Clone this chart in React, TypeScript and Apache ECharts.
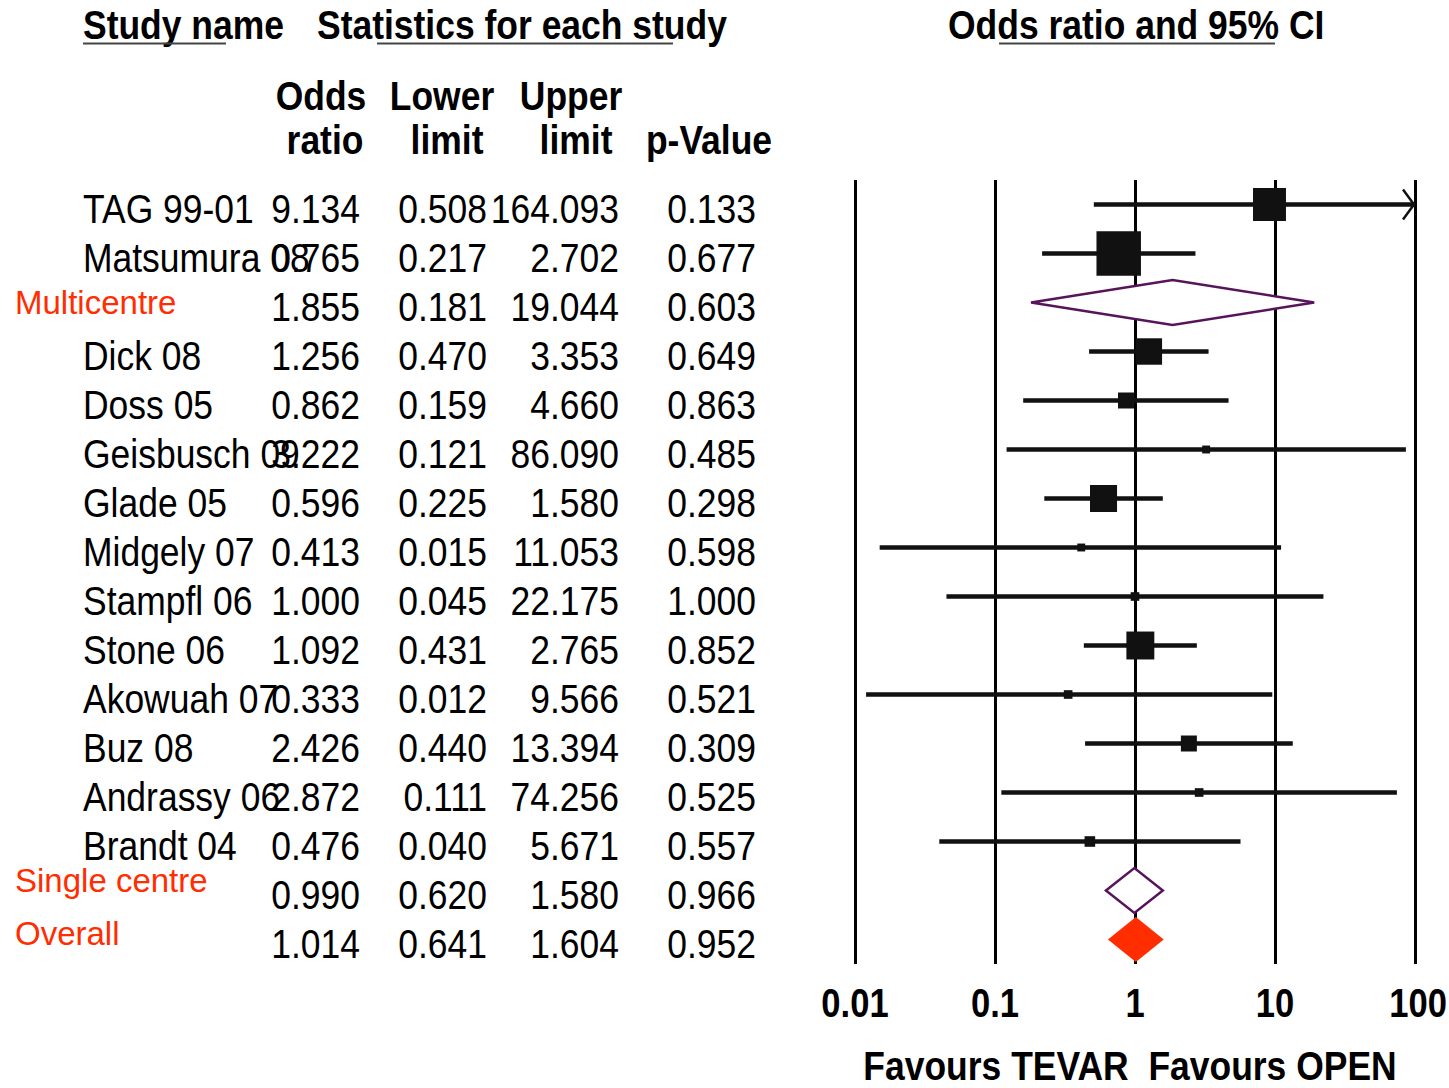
import React, { useEffect, useRef } from 'react';
import * as echarts from 'echarts';

// ---------- data ----------
const rowNames = [
  'TAG 99-01', 'Matsumura 08', 'Multicentre', 'Dick 08', 'Doss 05', 'Geisbusch 09',
  'Glade 05', 'Midgely 07', 'Stampfl 06', 'Stone 06', 'Akowuah 07', 'Buz 08',
  'Andrassy 06', 'Brandt 04', 'Single centre', 'Overall',
];
const rowType = [
  'study', 'study', 'subgroup', 'study', 'study', 'study', 'study', 'study',
  'study', 'study', 'study', 'study', 'study', 'study', 'subgroup', 'overall',
];
const oddsRatio = [9.134, 0.765, 1.855, 1.256, 0.862, 3.222, 0.596, 0.413, 1.0, 1.092, 0.333, 2.426, 2.872, 0.476, 0.99, 1.014];
const lowerLimit = [0.508, 0.217, 0.181, 0.47, 0.159, 0.121, 0.225, 0.015, 0.045, 0.431, 0.012, 0.44, 0.111, 0.04, 0.62, 0.641];
const upperLimit = [164.093, 2.702, 19.044, 3.353, 4.66, 86.09, 1.58, 11.053, 22.175, 2.765, 9.566, 13.394, 74.256, 5.671, 1.58, 1.604];
const pValue = [0.133, 0.677, 0.603, 0.649, 0.863, 0.485, 0.298, 0.598, 1.0, 0.852, 0.521, 0.309, 0.525, 0.557, 0.966, 0.952];
// relative weight (%) of each study
const relWeight = [17.4, 31.7, 0, 11.2, 4.1, 1.0, 11.7, 1.0, 1.2, 12.5, 1.2, 4.1, 1.2, 1.8, 0, 0];

const xTicks = [0.01, 0.1, 1, 10, 100];
const xTickLabels = ['0.01', '0.1', '1', '10', '100'];

const headerTitles = ['Study name', 'Statistics for each study', 'Odds ratio and 95% CI'];
const columnHeadTop = ['Odds', 'Lower', 'Upper', ''];
const columnHeadBottom = ['ratio', 'limit', 'limit', 'p-Value'];
const xAxisTitle = 'Favours TEVAR  Favours OPEN';

// ---------- styling / layout ----------
const X_MIN = 0.01;
const X_MAX = 100;
const FONT = "'Liberation Sans', Arial, Helvetica, sans-serif";
const SQUASH = 0.865;
const RED = '#ff2d00';
const PURPLE = '#58145a';
const INK = '#111111';

function txt(text: string, x: number, y: number, opt: any = {}) {
  const align = opt.align || 'left';
  return {
    type: 'text',
    x,
    y,
    scaleX: opt.scaleX ?? SQUASH,
    scaleY: 1,
    z: 10,
    style: {
      text,
      fontSize: opt.fontSize ?? 41,
      fontWeight: opt.bold ? 'bold' : 'normal',
      fontFamily: FONT,
      fill: opt.color || '#000',
      align,
      textAlign: align,
      verticalAlign: 'middle',
      textVerticalAlign: 'middle',
    },
  };
}

export default function App() {
  const ref = useRef<HTMLDivElement>(null);

  useEffect(() => {
    if (!ref.current) return;
    const chart = echarts.init(ref.current, null, { renderer: 'svg' });

    const studyData: any[] = [];
    const diamondData: any[] = [];
    rowType.forEach((t, i) => {
      if (t === 'study') studyData.push([i, oddsRatio[i], lowerLimit[i], upperLimit[i], relWeight[i]]);
      else diamondData.push([i, oddsRatio[i], lowerLimit[i], upperLimit[i], t === 'overall' ? 1 : 0]);
    });

    const option: any = {
      animation: false,
      backgroundColor: '#ffffff',
      grid: { left: 855, right: 34, top: 180, bottom: 124, containLabel: false },
      xAxis: {
        type: 'log',
        logBase: 10,
        min: X_MIN,
        max: X_MAX,
        axisLine: { show: false },
        axisTick: { show: false },
        splitLine: { show: true, showMinLine: true, showMaxLine: true, lineStyle: { color: '#000', width: 3 } },
        axisLabel: { show: false },
      },
      yAxis: { type: 'value', min: -0.5, max: 15.5, inverse: true, show: false },
      series: [
        {
          type: 'custom',
          name: 'studies',
          clip: false,
          z: 5,
          encode: { x: [1, 2, 3], y: 0 },
          data: studyData,
          renderItem: (params: any, api: any) => {
            const idx = api.value(0);
            const or = api.value(1);
            const lo = api.value(2);
            const hi = api.value(3);
            const w = api.value(4);
            const hiC = Math.min(hi, X_MAX);
            const pLo = api.coord([lo, idx]);
            const pHi = api.coord([hiC, idx]);
            const pOr = api.coord([or, idx]);
            const side = Math.sqrt(w) * 7.9;
            const children: any[] = [
              {
                type: 'line',
                shape: { x1: pLo[0], y1: pLo[1], x2: pHi[0], y2: pHi[1] },
                style: { stroke: INK, lineWidth: 4.5 },
              },
              {
                type: 'rect',
                shape: { x: pOr[0] - side / 2, y: pOr[1] - side / 2, width: side, height: side },
                style: { fill: INK },
              },
            ];
            if (hi > X_MAX) {
              children.push({
                type: 'polyline',
                shape: { points: [[pHi[0] - 12, pHi[1] - 15], [pHi[0] - 1, pHi[1]], [pHi[0] - 12, pHi[1] + 15]] },
                style: { stroke: INK, lineWidth: 2.5, fill: null },
              });
            }
            return { type: 'group', children };
          },
        },
        {
          type: 'custom',
          name: 'summaries',
          clip: false,
          z: 6,
          encode: { x: [1, 2, 3], y: 0 },
          data: diamondData,
          renderItem: (params: any, api: any) => {
            const idx = api.value(0);
            const pOr = api.coord([api.value(1), idx]);
            const pLo = api.coord([api.value(2), idx]);
            const pHi = api.coord([api.value(3), idx]);
            const filled = api.value(4) === 1;
            const h = 22.5;
            return {
              type: 'polygon',
              shape: {
                points: [
                  [pLo[0], pLo[1]],
                  [pOr[0], pOr[1] - h],
                  [pHi[0], pHi[1]],
                  [pOr[0], pOr[1] + h],
                ],
              },
              style: filled
                ? { fill: RED, stroke: null }
                : { fill: '#ffffff', stroke: PURPLE, lineWidth: 2.5 },
            };
          },
        },
      ],
    };

    chart.setOption(option);

    // ---------- table texts ----------
    const g: any[] = [];
    const colRight = [360, 487, 619, 756];
    const colCenter = [321, 442, 571, 709];
    const bottomCenter = [325, 447, 576, 709];

    g.push(txt(headerTitles[0], 83, 25, { bold: true }));
    g.push(txt(headerTitles[1], 317, 25, { bold: true }));
    g.push(txt(headerTitles[2], 948, 25, { bold: true }));
    const ul = (x1: number, x2: number) => ({
      type: 'line', z: 10,
      shape: { x1, y1: 43.5, x2, y2: 43.5 },
      style: { stroke: '#444', lineWidth: 2 },
    });
    g.push(ul(83, 226), ul(377, 673), ul(999, 1275));

    columnHeadTop.forEach((t, k) => {
      if (t) g.push(txt(t, colCenter[k], 96, { bold: true, align: 'center' }));
    });
    columnHeadBottom.forEach((t, k) => {
      g.push(txt(t, bottomCenter[k], 140, { bold: true, align: 'center' }));
    });

    const redDy: Record<string, number> = { 'Multicentre': -0.5, 'Single centre': -10, 'Overall': -6 };
    rowNames.forEach((name, i) => {
      const yRow = chart.convertToPixel({ yAxisIndex: 0 } as any, i) as number;
      const yT = yRow + 4;
      if (rowType[i] === 'study') {
        g.push(txt(name, 83, yT));
      } else {
        g.push(txt(name, 15, yRow + (redDy[name] ?? 0), { scaleX: 1, fontSize: 33, color: RED }));
      }
      const vals = [oddsRatio[i], lowerLimit[i], upperLimit[i], pValue[i]];
      vals.forEach((v, k) => g.push(txt(v.toFixed(3), colRight[k], yT, { align: 'right' })));
    });

    // x-axis tick labels, placed through the log axis scale
    xTicks.forEach((t, k) => {
      const px = chart.convertToPixel({ xAxisIndex: 0 } as any, t) as number;
      const lab = txt(xTickLabels[k], px, 1003, { bold: true, align: 'center', fontSize: 40 });
      if (k === xTicks.length - 1) {
        // keep the last label inside the canvas
        lab.style.align = 'right';
        lab.style.textAlign = 'right';
        lab.x = Math.min(px + 32, 1447);
      }
      g.push(lab);
    });

    g.push(txt(xAxisTitle, 1130, 1066, { bold: true, align: 'center', fontSize: 41 }));

    chart.setOption({ graphic: { elements: g } });

    return () => chart.dispose();
  }, []);

  return (
    <div
      ref={ref}
      style={{ position: 'absolute', left: 0, top: 0, width: 1449, height: 1088, background: '#fff' }}
    />
  );
}
